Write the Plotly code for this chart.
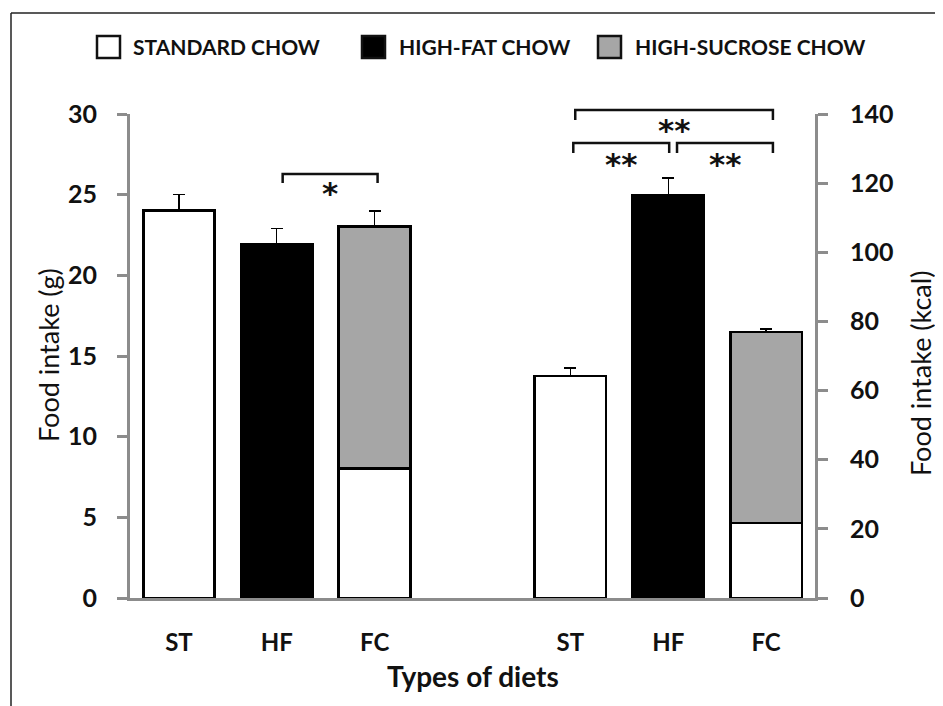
import plotly.graph_objects as go

# ---------------- data ----------------
categories = ["ST", "HF", "FC", "ST", "HF", "FC"]
cat_pos = [0, 1, 2, 4, 5, 6]

# Food intake in grams (left axis)
g_standard_x = [0, 2]
g_standard = [24.0, 8.0]
g_standard_err = [1.0, None]
g_highfat_x = [1]
g_highfat = [21.9]
g_highfat_err = [1.0]
g_sucrose_x = [2]
g_sucrose = [15.0]          # stacked on top of standard chow -> total 23
g_sucrose_err = [1.0]

# Food intake in kcal (right axis)
k_standard_x = [4, 6]
k_standard = [64.2, 21.7]
k_standard_err = [2.3, None]
k_highfat_x = [5]
k_highfat = [116.6]
k_highfat_err = [4.9]
k_sucrose_x = [6]
k_sucrose = [55.2]          # stacked -> total 76.9
k_sucrose_err = [0.9]

legend_labels = ["STANDARD CHOW", "HIGH-FAT CHOW", "HIGH-SUCROSE CHOW"]
colors = {"standard": "#ffffff", "highfat": "#000000", "sucrose": "#a6a6a6"}

FONT = "Lato"
AXIS_GRAY = "#8c8c8c"

# page body has an 8px margin, so the figure is drawn 8px smaller and offset
OFF = 8
W, H = 943 - OFF, 706 - OFF
PL, PR, PT, PB = 130, 815, 114, 598      # plot area in page pixels
L, R, T, B = PL - OFF, W - (PR - OFF), PT - OFF, H - (PB - OFF)
PW, PH = PR - PL, PB - PT


def px(x):
    return (x - PL) / PW


def py(y):
    return (PB - y) / PH


def nz(a):
    return [float("nan") if v is None else v for v in a]


def zeros(a):
    return [float("nan") if v is None else 0 for v in a]


def err(a):
    return dict(type="data", symmetric=False, array=nz(a), arrayminus=zeros(a),
                color="#000000", thickness=1.4, width=6)


fig = go.Figure()

BW = 0.73
fig.add_trace(go.Bar(x=g_standard_x, y=g_standard, width=BW, marker=dict(color=colors["standard"], line=dict(color="#000", width=3)),
                     error_y=err(g_standard_err), yaxis="y", name=legend_labels[0]))
fig.add_trace(go.Bar(x=g_highfat_x, y=g_highfat, width=BW, marker=dict(color=colors["highfat"], line=dict(color="#000", width=3)),
                     error_y=err(g_highfat_err), yaxis="y", name=legend_labels[1]))
fig.add_trace(go.Bar(x=g_sucrose_x, y=g_sucrose, width=BW, marker=dict(color=colors["sucrose"], line=dict(color="#000", width=3)),
                     error_y=err(g_sucrose_err), yaxis="y", name=legend_labels[2]))
fig.add_trace(go.Bar(x=k_standard_x, y=k_standard, width=BW, marker=dict(color=colors["standard"], line=dict(color="#000", width=2.5)),
                     error_y=err(k_standard_err), yaxis="y2", name=legend_labels[0]))
fig.add_trace(go.Bar(x=k_highfat_x, y=k_highfat, width=BW, marker=dict(color=colors["highfat"], line=dict(color="#000", width=2.5)),
                     error_y=err(k_highfat_err), yaxis="y2", name=legend_labels[1]))
fig.add_trace(go.Bar(x=k_sucrose_x, y=k_sucrose, width=BW, marker=dict(color=colors["sucrose"], line=dict(color="#000", width=2.5)),
                     error_y=err(k_sucrose_err), yaxis="y2", name=legend_labels[2]))

ytickfont = dict(family=FONT, size=25, color="#111", weight="bold")
xtickfont = dict(family=FONT, size=24, color="#111", weight="bold")

fig.update_layout(
    width=W, height=H,
    margin=dict(l=L, r=R, t=T, b=B),
    paper_bgcolor="white", plot_bgcolor="white",
    barmode="stack", showlegend=False,
    xaxis=dict(range=[-0.5, 6.5], tickvals=cat_pos, ticktext=categories, ticks="",
               showline=True, linecolor=AXIS_GRAY, linewidth=3, showgrid=False, zeroline=False,
               tickfont=xtickfont, ticklabelstandoff=21),
    yaxis=dict(range=[0, 30], dtick=5, ticks="outside", ticklen=10, tickwidth=2.5, tickcolor=AXIS_GRAY,
               showline=True, linecolor=AXIS_GRAY, linewidth=3, showgrid=False, zeroline=False,
               tickfont=ytickfont, ticklabelstandoff=15),
    yaxis2=dict(range=[0, 140], dtick=20, ticks="outside", ticklen=10, tickwidth=2.5, tickcolor=AXIS_GRAY,
                showline=True, linecolor=AXIS_GRAY, linewidth=3, showgrid=False, zeroline=False,
                overlaying="y", side="right", tickfont=ytickfont, ticklabelstandoff=17),
)

shapes = []
annotations = []

# outer frame (top and left lines)
shapes.append(dict(type="line", xref="paper", yref="paper", x0=px(11), x1=px(943), y0=py(13), y1=py(13),
                   line=dict(color="#222", width=1.5)))
shapes.append(dict(type="line", xref="paper", yref="paper", x0=px(11), x1=px(11), y0=py(13), y1=py(706),
                   line=dict(color="#222", width=1.5)))

# custom legend
leg_boxes = [(97, 120), (362, 385), (598, 621)]
leg_text_x = [131, 397, 633]
leg_colors = [colors["standard"], colors["highfat"], colors["sucrose"]]
for (bx0, bx1), tx, c, lab in zip(leg_boxes, leg_text_x, leg_colors, legend_labels):
    shapes.append(dict(type="rect", xref="paper", yref="paper", x0=px(bx0), x1=px(bx1), y0=py(58), y1=py(36),
                       fillcolor=c, line=dict(color="#111", width=2.5)))
    annotations.append(dict(xref="paper", yref="paper", x=px(tx), y=py(47), xanchor="left", yanchor="middle",
                            text=lab, showarrow=False, font=dict(family=FONT, size=21, color="#111", weight="bold")))

# significance brackets: (x_start, x_end, y_top_px, y_drop_px, label, label_center_px)
brackets = [
    (1.06, 2.03, 174, 183, "*", 187),
    (4.05, 6.07, 110, 120, "**", 124),
    (4.03, 5.01, 143, 153, "**", 158),
    (5.09, 6.07, 143, 153, "**", 158),
]
for x0, x1, yt, yd, lab, ly in brackets:
    shapes.append(dict(type="path", xref="x", yref="paper",
                       path=f"M {x0},{py(yd)} L {x0},{py(yt)} L {x1},{py(yt)} L {x1},{py(yd)}",
                       line=dict(color="#111", width=2.5)))
    annotations.append(dict(xref="x", yref="paper", x=(x0 + x1) / 2, y=py(ly + 6), xanchor="center", yanchor="middle",
                            text=lab, showarrow=False,
                            font=dict(family="DejaVu Sans", size=31, color="#111", weight="bold")))

# axis titles
annotations.append(dict(xref="paper", yref="paper", x=px(48), y=py(355), textangle=-90, xanchor="center", yanchor="middle",
                        text="Food intake (g)", showarrow=False, font=dict(family=FONT, size=27, color="#111")))
annotations.append(dict(xref="paper", yref="paper", x=px(920), y=py(374), textangle=-90, xanchor="center", yanchor="middle",
                        text="Food intake (kcal)", showarrow=False, font=dict(family=FONT, size=27, color="#111")))
annotations.append(dict(xref="paper", yref="paper", x=px(473), y=py(676), xanchor="center", yanchor="middle",
                        text="Types of diets", showarrow=False, font=dict(family=FONT, size=28, color="#111", weight="bold")))

fig.update_layout(shapes=shapes, annotations=annotations)

fig.write_html("out.html")
